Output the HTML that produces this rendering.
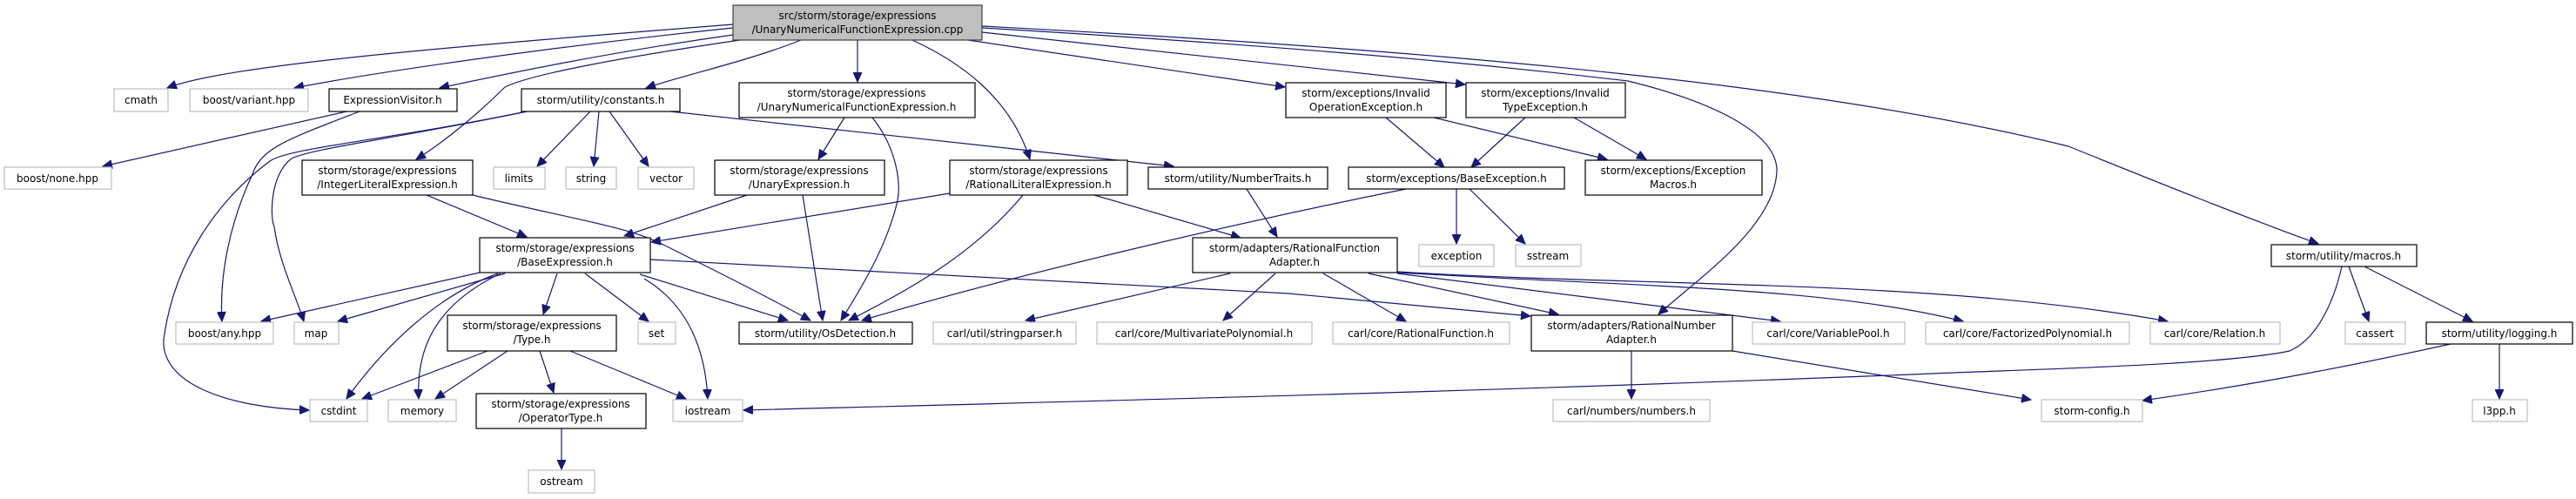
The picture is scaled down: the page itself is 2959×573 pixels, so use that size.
<!DOCTYPE html>
<html><head><meta charset="utf-8"><style>
html,body{margin:0;padding:0;background:#fff;width:2959px;height:573px;overflow:hidden}
svg text{font-family:"DejaVu Sans","Liberation Sans",sans-serif;font-size:12px;fill:#000;text-anchor:middle}
.e{fill:none;stroke:#191970;stroke-width:1.2;marker-end:url(#a)}
.l{fill:#fff;stroke:#bfbfbf;stroke-width:1.2}
.b{fill:#fff;stroke:#000;stroke-width:1.2}
</style></head><body>
<svg width="2959" height="573" viewBox="0 0 2959 573" xmlns="http://www.w3.org/2000/svg">
<defs><marker id="a" markerUnits="userSpaceOnUse" markerWidth="12" markerHeight="10" refX="11" refY="5" orient="auto"><path d="M0,0 L11,5 L0,10 z" fill="#191970" stroke="#191970"/></marker></defs>
<!-- edges -->
<path class="e" d="M842,28 C500,55 260,75 192,101"/>
<path class="e" d="M842,32 C620,55 420,85 338,101"/>
<path class="e" d="M842,40 C700,60 580,85 505,101"/>
<path class="e" d="M920,46 C860,70 790,85 742,101"/>
<path class="e" d="M850,46 C720,65 610,85 580,100 C555,125 515,160 478,183"/>
<path class="e" d="M985,46 L985,94"/>
<path class="e" d="M1048,46 C1100,70 1160,110 1183,183"/>
<path class="e" d="M1112,46 L1476,100"/>
<path class="e" d="M1128,37 L1683,97"/>
<path class="e" d="M1128,32 C1600,60 1800,85 1870,93 C1960,115 2040,150 2041,195 C2040,260 1950,320 1905,361"/>
<path class="e" d="M1128,30 C1700,60 2100,100 2376,168 C2480,210 2580,250 2663,280"/>
<path class="e" d="M678,128 L617,191"/>
<path class="e" d="M688,128 L682,191"/>
<path class="e" d="M700,128 L745,191"/>
<path class="e" d="M770,128 L1348,191"/>
<path class="e" d="M605,128 C450,160 330,170 310,185 C250,230 200,300 188,390 C185,440 260,468 355,471"/>
<path class="e" d="M605,128 C450,160 360,170 335,182 C310,200 310,250 315,260 C320,300 340,340 349,369"/>
<path class="e" d="M398,128 L118,191"/>
<path class="e" d="M413,128 C330,160 300,170 290,200 C262,260 252,320 255,369"/>
<path class="e" d="M970,135 L940,183"/>
<path class="e" d="M1002,135 C1030,170 1035,210 1031,230 C1020,280 990,330 966,368"/>
<path class="e" d="M490,224 L605,272"/>
<path class="e" d="M543,224 C650,250 720,260 760,280 C820,310 880,340 931,368"/>
<path class="e" d="M858,224 L717,271"/>
<path class="e" d="M922,224 L945,368"/>
<path class="e" d="M1175,224 C1120,290 1050,330 975,368"/>
<path class="e" d="M1257,224 L1425,273"/>
<path class="e" d="M1091,222 L748,278"/>
<path class="e" d="M1432,217 L1467,272"/>
<path class="e" d="M1592,135 L1659,192"/>
<path class="e" d="M1647,135 L1846,183"/>
<path class="e" d="M1752,135 L1690,192"/>
<path class="e" d="M1808,135 L1891,183"/>
<path class="e" d="M1673,217 L1673,280"/>
<path class="e" d="M1688,217 L1752,280"/>
<path class="e" d="M1615,217 C1400,260 1150,320 990,368"/>
<path class="e" d="M551,313 L300,369"/>
<path class="e" d="M580,314 L388,369"/>
<path class="e" d="M572,314 C500,340 440,400 398,458"/>
<path class="e" d="M575,314 C500,350 478,400 481,458"/>
<path class="e" d="M640,314 L624,361"/>
<path class="e" d="M672,314 L745,369"/>
<path class="e" d="M740,320 C790,350 810,400 813,458"/>
<path class="e" d="M735,315 L905,368"/>
<path class="e" d="M747,298 L1480,337 L1758,363"/>
<path class="e" d="M560,403 L416,458"/>
<path class="e" d="M583,403 L500,458"/>
<path class="e" d="M620,403 L636,451"/>
<path class="e" d="M655,403 L788,458"/>
<path class="e" d="M645,492 L645,539"/>
<path class="e" d="M1413,314 L1178,368"/>
<path class="e" d="M1465,314 L1405,368"/>
<path class="e" d="M1520,314 L1615,369"/>
<path class="e" d="M1572,314 L1790,361"/>
<path class="e" d="M1605,314 L2045,369"/>
<path class="e" d="M1605,313 C1900,330 2100,330 2255,369"/>
<path class="e" d="M1605,312 C1900,330 2220,320 2490,369"/>
<path class="e" d="M1874,403 L1874,458"/>
<path class="e" d="M1990,403 L2333,459"/>
<path class="e" d="M2690,306 C2680,350 2660,390 2630,403 C2550,420 2300,425 2220,429 C1700,450 1200,462 854,471"/>
<path class="e" d="M2698,306 L2721,369"/>
<path class="e" d="M2716,306 L2840,369"/>
<path class="e" d="M2815,395 C2700,420 2600,440 2461,460"/>
<path class="e" d="M2871,395 L2871,458"/>
<!-- nodes -->
<rect x="842" y="6" width="286" height="40" fill="#bfbfbf" stroke="#404040" stroke-width="1.2"/>
<text x="985" y="22">src/storm/storage/expressions</text><text x="985" y="38">/UnaryNumericalFunctionExpression.cpp</text>

<rect class="l" x="131" y="102" width="62" height="26"/><text x="162" y="119">cmath</text>
<rect class="l" x="218" y="102" width="136" height="26"/><text x="286" y="119">boost/variant.hpp</text>
<rect class="b" x="378" y="102" width="147" height="26"/><text x="451" y="119">ExpressionVisitor.h</text>
<rect class="b" x="599" y="102" width="182" height="26"/><text x="690" y="119">storm/utility/constants.h</text>
<rect class="b" x="849" y="95" width="271" height="40"/><text x="984" y="111">storm/storage/expressions</text><text x="984" y="127">/UnaryNumericalFunctionExpression.h</text>
<rect class="b" x="1477" y="95" width="184" height="40"/><text x="1569" y="111">storm/exceptions/Invalid</text><text x="1569" y="127">OperationException.h</text>
<rect class="b" x="1684" y="95" width="183" height="40"/><text x="1775" y="111">storm/exceptions/Invalid</text><text x="1775" y="127">TypeException.h</text>

<rect class="l" x="5" y="192" width="123" height="25"/><text x="66" y="209">boost/none.hpp</text>
<rect class="b" x="347" y="184" width="196" height="40"/><text x="445" y="200">storm/storage/expressions</text><text x="445" y="216">/IntegerLiteralExpression.h</text>
<rect class="l" x="567" y="192" width="59" height="25"/><text x="596" y="209">limits</text>
<rect class="l" x="650" y="192" width="58" height="25"/><text x="679" y="209">string</text>
<rect class="l" x="733" y="192" width="64" height="25"/><text x="765" y="209">vector</text>
<rect class="b" x="821" y="184" width="195" height="40"/><text x="918" y="200">storm/storage/expressions</text><text x="918" y="216">/UnaryExpression.h</text>
<rect class="b" x="1091" y="184" width="204" height="40"/><text x="1193" y="200">storm/storage/expressions</text><text x="1193" y="216">/RationalLiteralExpression.h</text>
<rect class="b" x="1319" y="192" width="206" height="25"/><text x="1422" y="209">storm/utility/NumberTraits.h</text>
<rect class="b" x="1549" y="192" width="248" height="25"/><text x="1673" y="209">storm/exceptions/BaseException.h</text>
<rect class="b" x="1821" y="184" width="203" height="40"/><text x="1922" y="200">storm/exceptions/Exception</text><text x="1922" y="216">Macros.h</text>

<rect class="b" x="551" y="273" width="196" height="40"/><text x="649" y="289">storm/storage/expressions</text><text x="649" y="305">/BaseExpression.h</text>
<rect class="b" x="1370" y="273" width="235" height="40"/><text x="1487" y="289">storm/adapters/RationalFunction</text><text x="1487" y="305">Adapter.h</text>
<rect class="l" x="1630" y="281" width="86" height="25"/><text x="1673" y="298">exception</text>
<rect class="l" x="1741" y="281" width="75" height="25"/><text x="1778" y="298">sstream</text>
<rect class="b" x="2609" y="281" width="167" height="25"/><text x="2692" y="298">storm/utility/macros.h</text>

<rect class="l" x="202" y="370" width="112" height="25"/><text x="258" y="387">boost/any.hpp</text>
<rect class="l" x="338" y="370" width="51" height="25"/><text x="363" y="387">map</text>
<rect class="b" x="514" y="362" width="194" height="41"/><text x="611" y="378">storm/storage/expressions</text><text x="611" y="394">/Type.h</text>
<rect class="l" x="733" y="370" width="43" height="25"/><text x="754" y="387">set</text>
<rect class="b" x="849" y="370" width="199" height="25"/><text x="948" y="387">storm/utility/OsDetection.h</text>
<rect class="l" x="1072" y="370" width="164" height="25"/><text x="1154" y="387">carl/util/stringparser.h</text>
<rect class="l" x="1260" y="370" width="247" height="25"/><text x="1383" y="387">carl/core/MultivariatePolynomial.h</text>
<rect class="l" x="1531" y="370" width="203" height="25"/><text x="1632" y="387">carl/core/RationalFunction.h</text>
<rect class="b" x="1759" y="362" width="231" height="41"/><text x="1874" y="378">storm/adapters/RationalNumber</text><text x="1874" y="394">Adapter.h</text>
<rect class="l" x="2013" y="370" width="175" height="25"/><text x="2100" y="387">carl/core/VariablePool.h</text>
<rect class="l" x="2212" y="370" width="234" height="25"/><text x="2329" y="387">carl/core/FactorizedPolynomial.h</text>
<rect class="l" x="2470" y="370" width="149" height="25"/><text x="2544" y="387">carl/core/Relation.h</text>
<rect class="l" x="2694" y="370" width="69" height="25"/><text x="2728" y="387">cassert</text>
<rect class="b" x="2787" y="370" width="168" height="25"/><text x="2871" y="387">storm/utility/logging.h</text>

<rect class="l" x="356" y="459" width="66" height="25"/><text x="389" y="476">cstdint</text>
<rect class="l" x="446" y="459" width="78" height="25"/><text x="485" y="476">memory</text>
<rect class="b" x="547" y="452" width="195" height="40"/><text x="644" y="468">storm/storage/expressions</text><text x="644" y="484">/OperatorType.h</text>
<rect class="l" x="773" y="459" width="80" height="25"/><text x="813" y="476">iostream</text>
<rect class="l" x="1784" y="459" width="180" height="25"/><text x="1874" y="476">carl/numbers/numbers.h</text>
<rect class="l" x="2345" y="459" width="116" height="25"/><text x="2403" y="476">storm-config.h</text>
<rect class="l" x="2840" y="459" width="63" height="25"/><text x="2871" y="476">l3pp.h</text>
<rect class="l" x="607" y="540" width="76" height="26"/><text x="645" y="557">ostream</text>
</svg>
</body></html>
